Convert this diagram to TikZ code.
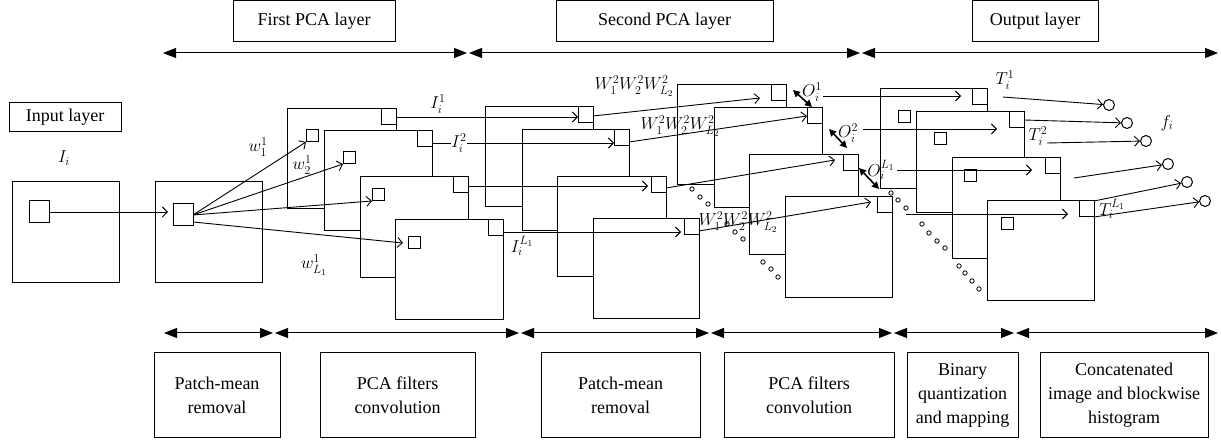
\documentclass[tikz,border=0pt]{standalone}
\usepackage{fontspec}
\setmainfont{Liberation Serif}
\usetikzlibrary{arrows.meta,calc}
\newcommand{\pcasheet}[5]{%
  \node[sheet, anchor=north west, minimum width={(#4)-(#2)}, minimum height={(#5)-(#3)}] (#1) at (#2,#3) {};
  \node[csq, anchor=north east] (#1c) at (#1.north east) {};}
\begin{document}
\begin{tikzpicture}[x=1pt,y=-1pt,
  every node/.style={font=\fontsize{18}{24}\selectfont},
  lbox/.style={draw, line width=1pt, align=center, inner sep=0pt},
  sheet/.style={draw, fill=white, line width=1pt, inner sep=0pt, outer sep=0pt},
  csq/.style={draw, line width=1pt, inner sep=0pt, outer sep=0pt, minimum width=15pt, minimum height=16pt},
  isq/.style={draw, line width=1pt, inner sep=0pt, outer sep=0pt, minimum size=12pt},
  bsq/.style={draw, line width=1pt, inner sep=0pt, outer sep=0pt, minimum width=20pt, minimum height=22pt},
  conn/.style={line width=0.9pt, -{Straight Barb[length=5pt,width=10pt]}},
  span/.style={line width=1pt, {Triangle[length=13pt,width=10pt]}-{Triangle[length=13pt,width=10pt]}},
  dbl/.style={line width=1.6pt, {Triangle[length=7pt,width=7pt]}-{Triangle[length=7pt,width=7pt]}},
  dot/.style={draw, circle, inner sep=0pt, minimum size=4.4pt, line width=0.8pt},
  outc/.style={draw, circle, inner sep=0pt, minimum size=11pt, line width=1pt},
  lab/.style={inner sep=0.5pt},
]
\useasboundingbox (0,0) rectangle (1221,443);

% ---- header boxes and spans
\node[lbox, minimum width=162pt, minimum height=41pt] (top1) at (314,21.5) {First PCA layer};
\node[lbox, minimum width=217pt, minimum height=41pt] (top2) at (664.5,21.5) {Second PCA layer};
\node[lbox, minimum width=126pt, minimum height=41pt] (top3) at (1035,21.5) {Output layer};
\coordinate (ta0) at (163,53);  \coordinate (ta1) at (467,53);
\coordinate (ta1b) at (469,53); \coordinate (ta2) at (860,53);
\coordinate (ta2b) at (862,53); \coordinate (ta3) at (1218,53);
\draw[span] (ta0) -- (ta1);
\draw[span] (ta1b) -- (ta2);
\draw[span] (ta2b) -- (ta3);

% ---- bottom boxes and spans
\node[lbox, minimum width=126pt, minimum height=84pt] (b1) at (217,395) {Patch-mean\\removal};
\node[lbox, minimum width=155pt, minimum height=84pt] (b2) at (397.5,395) {PCA filters\\convolution};
\node[lbox, minimum width=159pt, minimum height=84pt] (b3) at (620.5,395) {Patch-mean\\removal};
\node[lbox, minimum width=170pt, minimum height=84pt] (b4) at (809,395) {PCA filters\\convolution};
\node[lbox, minimum width=111pt, minimum height=84pt] (b5) at (962.5,395) {Binary\\quantization\\and mapping};
\node[lbox, minimum width=168pt, minimum height=84pt] (b6) at (1124,395) {Concatenated\\image and blockwise\\histogram};
\coordinate (ba0) at (164,333);  \coordinate (ba1) at (273,333);
\coordinate (ba1b) at (275,333); \coordinate (ba2) at (519,333);
\coordinate (ba2b) at (521,333); \coordinate (ba3) at (709,333);
\coordinate (ba3b) at (711,333); \coordinate (ba4) at (892,333);
\coordinate (ba4b) at (894,333); \coordinate (ba5) at (1014,333);
\coordinate (ba5b) at (1016,333); \coordinate (ba6) at (1218,333);
\draw[span] (ba0) -- (ba1);
\draw[span] (ba1b) -- (ba2);
\draw[span] (ba2b) -- (ba3);
\draw[span] (ba3b) -- (ba4);
\draw[span] (ba4b) -- (ba5);
\draw[span] (ba5b) -- (ba6);

% ---- input layer
\node[lbox, minimum width=112pt, minimum height=29pt] (inlab) at (65,117.5) {Input layer};
\node[lab] (Ii) at (64,158) {$I_i$};
\node[sheet, anchor=north west, minimum width=107pt, minimum height=101pt] (inp) at (12,182) {};
\node[bsq, anchor=north west] (in1) at (29,201) {};
\node[sheet, anchor=north west, minimum width=107pt, minimum height=101pt] (pm) at (155,182) {};
\node[bsq, anchor=north west] (pm1) at (173,204) {};

% ---- first PCA stack
\pcasheet{R1}{287}{109}{396}{209}
\node[isq, anchor=north west] (R1i) at (306,130) {};
\pcasheet{R2}{324}{131}{432}{231}
\node[isq, anchor=north west] (R2i) at (343,152) {};
\pcasheet{R3}{360}{177}{468}{278}
\node[isq, anchor=north west] (R3i) at (372,189) {};
\pcasheet{R4}{395}{220}{503}{320}
\node[isq, anchor=north west] (R4i) at (408,237) {};

% ---- second PCA stack (input side)
\pcasheet{S1}{485}{107}{593}{207}
\pcasheet{S2}{522}{130}{629}{231}
\pcasheet{S3}{557}{177}{666}{277}
\pcasheet{S4}{593}{219}{699}{319}

% ---- second PCA stack (output side)
\pcasheet{T1}{677}{85}{786}{185}
\pcasheet{T2}{714}{108}{822}{208}
\pcasheet{T3}{749}{155}{858}{255}
\pcasheet{T4}{785}{197}{892}{298}

% ---- output stack
\pcasheet{U1}{880}{89}{987}{189}
\node[isq, anchor=north west] (U1i) at (898,111) {};
\pcasheet{U2}{916}{112}{1024}{213}
\node[isq, anchor=north west] (U2i) at (934,133) {};
\pcasheet{U3}{952}{158}{1060}{259}
\node[isq, anchor=north west] (U3i) at (964,170) {};
\pcasheet{U4}{987}{201}{1094}{301}
\node[isq, anchor=north west] (U4i) at (1001,218) {};

% ---- continuation dots
\foreach \x/\y [count=\k] in {692/189,700/197,708/204,727/224,735/232,743/239,763/262,771/269,778/277,
  891/193,898/200,906/208,922/224,929/233,937/241,945/248,959/266,965/273,972/281,979/289}
  \node[dot] (dot\k) at (\x,\y) {};

% ---- input to patch-mean
\draw[conn] (in1.east) -- ($(in1.east -| pm1.west)+(-5,0)$);

% ---- fan to first PCA filters
\draw[conn] (pm1.east) -- (R1i.south west);
\draw[conn] (pm1.east) -- (R2i.south west);
\draw[conn] (pm1.east) -- (R3i.south west);
\draw[conn] ($(pm1.south east)+(0,-4)$) -- ($(R4i.west)+(-5,0)$);
\node[lab] (w1) at (258,147) {$w_1^1$};
\node[lab] (w2) at (302,165) {$w_2^1$};
\node[lab] (wL) at (314,265) {$w_{L_1}^1$};

% ---- first stack to second stack
\coordinate (a1) at (R1c.east);
\coordinate (a2) at ($(R2c.east)+(0,4)$);
\coordinate (a3) at ($(R3c.east)+(0,1)$);
\coordinate (a4) at ($(R4c.east)+(0,4)$);
\draw[conn] (a1) -- (a1 -| S1c.west);
\draw[conn] (a2) -- (a2 -| S2c.west);
\draw[conn] (a3) -- ($(a3 -| S3c.west)+(-3,0)$);
\draw[conn] (a4) -- ($(a4 -| S4c.west)+(-3,0)$);
\node[lab] (I1) at (438,104) {$I_i^1$};
\node[lab, fill=white] (I2) at (459,143) {$I_i^2$};
\node[lab] (IL) at (522,246) {$I_i^{L_1}$};

% ---- second stack: PCA filters
\draw[conn] ($(S1c.east)+(0,1)$) -- ($(T1c.west)+(-11,5)$);
\draw[conn] ($(S2c.east)+(0,4)$) -- (T2c.west);
\draw[conn] ($(S3c.east)+(0,3)$) -- ($(T3c.west)+(-8,-3)$);
\draw[conn] ($(S4c.east)+(0,4)$) -- ($(T4c.west)+(-6,-3)$);
\node[lab] (W1) at (634,86) {$W_1^2W_2^2W_{L_2}^2$};
\node[lab] (W2) at (680,126) {$W_1^2W_2^2W_{L_2}^2$};
\node[lab] (W3) at (738,222) {$W_1^2W_2^2W_{L_2}^2$};

% ---- O outputs
\draw[dbl] ($(T1c.east)+(7,-3)$) -- ($(T2c.north west)+(5,-1)$);
\draw[dbl] ($(T2c.south east)+(7,5)$) -- ($(T3c.north west)+(4,-7)$);
\draw[dbl] ($(T3c.east)+(1,5)$) -- ($(U1.south west)+(-1,0)$);
\node[lab] (O1) at (812,92) {$O_i^1$};
\node[lab] (O2) at (848,133) {$O_i^2$};
\node[lab] (OL) at (881,170) {$O_i^{L_1}$};
\coordinate (o1s) at (823,96);
\coordinate (o2s) at (863,129);
\coordinate (o3s) at (897,170);
\coordinate (o4s) at (906,214);
\draw[conn] (o1s) -- ($(o1s -| U1c.west)+(-11,0)$);
\draw[conn] (o2s) -- ($(o2s -| U2c.west)+(-12,0)$);
\draw[conn] (o3s) -- ($(o3s -| U3c.west)+(-13,0)$);
\draw[conn] (o4s) -- ($(o4s -| U4c.west)+(-11,0)$);

% ---- histogram outputs
\node[outc] (c1) at (1109,105) {};
\node[outc] (c2) at (1127,123) {};
\node[outc] (c3) at (1146,141) {};
\node[outc] (c4) at (1168,164) {};
\node[outc] (c5) at (1187,182) {};
\node[outc] (c6) at (1205,201) {};
\coordinate (p1) at (1003,97);
\coordinate (p3) at (1047,143);
\coordinate (p4) at (1074,178);
\draw[conn] (p1) -- (c1);
\draw[conn] (U2c.east) -- (c2);
\draw[conn] (p3) -- (c3);
\draw[conn] (p4) -- (c4);
\draw[conn] (U4c.north east) -- (c5);
\draw[conn] (U4c.south east) -- (c6);
\node[lab] (T1l) at (1005,80) {$T_i^1$};
\node[lab] (T2l) at (1038,136) {$T_i^2$};
\node[lab] (TLl) at (1112,209) {$T_i^{L_1}$};
\node[lab] (fi) at (1167,123) {$f_i$};
\end{tikzpicture}
\end{document}
